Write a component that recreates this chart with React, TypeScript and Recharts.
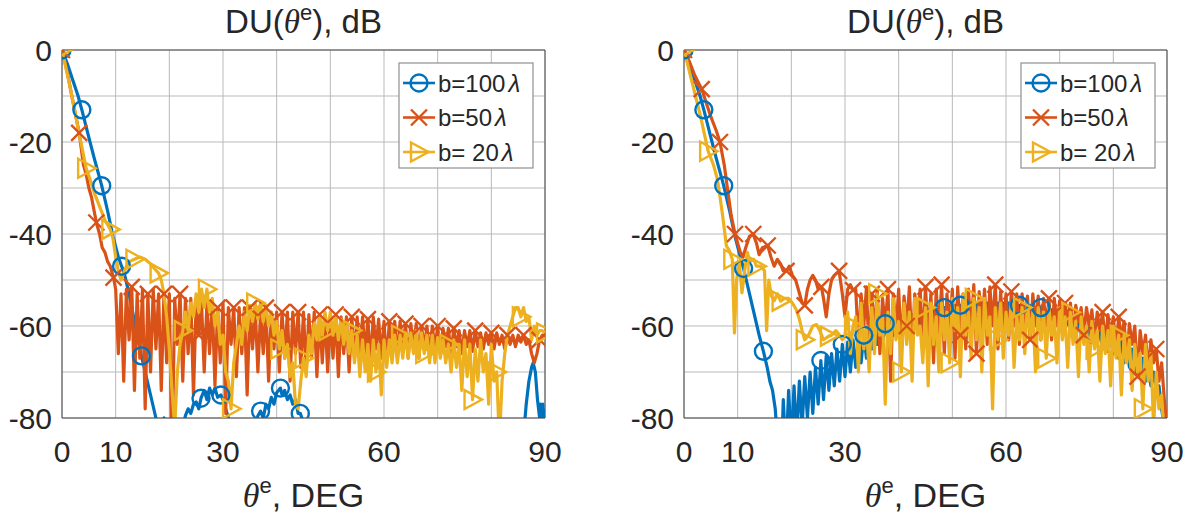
import React from 'react';
import { LineChart, Line, XAxis, YAxis, CartesianGrid, ReferenceLine } from 'recharts';

const BLUE = '#0072BD';
const ORANGE = '#D95319';
const YELLOW = '#EDB120';
const FONT = '"Liberation Sans", Arial, Helvetica, sans-serif';
const TEXT = '#262626';
const AXIS = '#4a4a4a';

const xTicks = [0, 10, 20, 30, 40, 50, 60, 70, 80, 90];
const xLabeled = [0, 10, 30, 60, 90];
const yTicks = [-80, -70, -60, -50, -40, -30, -20, -10, 0];
const yLabeled = [-80, -60, -40, -20, 0];
const legendLabels = ['b=100', 'b=50', 'b= 20'];

// dense parts are sampled every half degree
const STEP = 0.5;

// ---------- left panel ----------
const leftBlue: [number, number][] = [
  [0, 0], [1, -3], [2, -6.5], [3, -10], [3.7, -13], [5, -19], [6, -23.5], [7.4, -29.5], [8.5, -35],
  [9.5, -40.5], [10.5, -45], [11.1, -47], [11.6, -48.5], [12, -50.5], [12.5, -53], [13, -56], [13.5, -59],
  [14, -62], [14.8, -66.5], [15.5, -70], [16, -72.5], [16.5, -75], [17, -77.5], [17.5, -80], [18, -84],
  [18.5, -81], [19, -80], [19.5, -84], [20, -90], [21, -92], [22, -88], [22.5, -82], [23, -79.5],
  [23.5, -78], [24, -79], [24.5, -77], [25, -76.5], [25.5, -78], [25.9, -75.7], [26.5, -74], [27, -76],
  [27.5, -73.5], [28, -75], [28.5, -73.5], [29, -75.5], [29.6, -75], [30, -76], [30.5, -78], [31, -80],
  [31.5, -84], [32, -90], [34, -95], [35.5, -86], [36, -82], [36.5, -79.5], [37, -78.5], [37.5, -80],
  [38, -77], [38.5, -78], [39, -75.5], [39.5, -77], [40, -74.5], [40.7, -73.5], [41, -75], [41.5, -74],
  [42, -76], [42.5, -75], [43, -77], [43.5, -76], [44, -79], [44.4, -79], [45, -81], [46, -88], [48, -95],
  [60, -96], [85.5, -95], [86, -84], [86.5, -77], [87, -72], [87.5, -69], [87.8, -68], [88.2, -70],
  [88.6, -76], [89, -80], [89.2, -77], [89.4, -82], [89.6, -77], [89.8, -85], [90, -78],
];
const leftBlueMarks = [0, 3.7, 7.4, 11.1, 14.8, 25.9, 29.6, 37, 40.7, 44.4];

const leftOrangeHead: [number, number][] = [
  [0, 0], [1, -5], [2, -11], [3.2, -18], [4, -25], [4.5, -27], [5, -30], [5.5, -32], [6.4, -37.5],
  [7, -40], [7.5, -43], [8, -44], [8.5, -46], [9, -47], [9.6, -49.5],
];
// from 10 deg
const leftOrangeTail = [
  -52, -66, -53, -72, -52, -63, -51.5, -74, -53, -67,
  -52, -78, -53, -70, -52, -65, -53, -74, -53, -68,
  -53, -90, -54, -64, -53, -72, -54, -66, -54, -75,
  -55, -62, -55, -70, -55, -66, -55, -73, -56, -68,
  -55, -79, -56, -64, -56, -71, -56, -66, -56, -75,
  -56, -65, -56, -70, -57, -66, -56, -72, -57, -65,
  -57, -70, -57, -67, -57, -72, -57, -66, -57, -69,
  -57, -70, -57.5, -67, -57, -71, -57.5, -68, -57.5, -70,
  -58, -67, -57.5, -71, -58, -66, -58, -70, -58, -67,
  -58, -68, -58, -66, -58.5, -68, -58, -65, -58.5, -67,
  -59, -68, -59, -65, -59, -67, -59, -65, -59.5, -67,
  -59.5, -65, -59.5, -67, -60, -65, -60, -66.5, -60, -65,
  -60, -66, -60.5, -64.5, -60.5, -66, -60.5, -64.5, -61, -66,
  -61, -64.5, -61, -65.5, -61, -64.5, -61.5, -65, -61.5, -64,
  -61.5, -65, -61.5, -64, -62, -65, -62, -64, -62, -64.5,
  -62, -63.5, -62, -64, -63, -66, -68, -66, -63, -62,
  -62,
];
const leftOrangeMarks = [0, 3.2, 6.4, 9.6, 13, 16, 19, 22, 25.5, 29, 32, 35, 38, 41, 44, 48, 51, 54, 57, 61, 64, 67, 70, 73, 77, 80, 83, 86, 89];

const leftYellowHead: [number, number][] = [
  [0, 0], [1.5, -8], [3, -17], [4.5, -25.7], [5.2, -28], [6, -31], [7, -34], [8, -37], [9, -39],
  [9.5, -41], [10, -45], [10.5, -48], [11, -50], [11.5, -48.5], [12, -47], [12.5, -46], [13.5, -45.5],
  [14.5, -45], [15.5, -45.5], [16.5, -46.5], [17.2, -47.5], [18, -48.5], [18.5, -50], [19, -53],
  [19.5, -58], [20, -65], [20.5, -74],
];
// from 21 deg
const leftYellowTail = [
  -82, -70, -64, -61, -57, -61, -55, -58,
  -53, -57, -52, -56, -52, -57, -54, -60, -57, -64,
  -62, -70, -72, -78, -68, -64, -60, -64, -57, -61,
  -55.5, -59, -55, -58.5, -55, -59, -55.5, -60, -57, -62,
  -59, -65, -61, -67, -64, -71, -68, -77, -78, -72,
  -67, -71, -62, -66, -59, -63, -57.5, -62, -57, -61,
  -57, -62, -57.5, -63, -58.5, -64, -59.5, -66, -61, -68,
  -62, -71, -63, -70, -64, -72, -63, -70, -64, -75,
  -63, -69, -63, -68, -62, -68, -62, -67, -61.5, -67,
  -61.5, -66, -61, -67, -61.5, -66, -62, -68, -62, -68,
  -62.5, -67, -63, -68, -64, -70, -63, -69, -64, -74,
  -63, -71, -64, -76, -65, -72, -63, -70, -66, -77,
  -64, -72, -70, -85, -72, -66, -62, -60, -58, -56,
  -56, -58, -56, -59, -58, -63, -60, -62, -61, -61,
  -61.5,
];
const leftYellowMarks = [0, 4.5, 9, 13.5, 18, 22.5, 27, 31.5, 36, 40.5, 45, 49.5, 54, 58.5, 63, 67.5, 72, 76.5, 81, 85.5, 90];

// ---------- right panel ----------
const rightBlueHead: [number, number][] = [
  [0, 0], [1, -3], [2, -6.5], [3, -10], [3.7, -13], [5, -19], [6, -23.5], [7.4, -29.5], [8.5, -35],
  [9.5, -40.5], [10.5, -45], [11.1, -47.5], [12, -52], [13, -57], [14, -62], [14.8, -65.5], [15.5, -69],
  [16, -72], [16.5, -74], [17, -78], [17.5, -86],
];
// from 18 deg
const rightBlueTail = [
  -95, -76, -88, -74,
  -86, -73, -84, -72, -82, -71, -80, -70, -79, -69,
  -77, -67.5, -76, -66.5, -74, -66, -73, -65, -72, -64,
  -71, -63.5, -70, -63, -69, -62.5, -68, -62, -67, -61.5,
  -65, -61, -64, -60, -63.5, -59.5, -63, -59, -62, -58.5,
  -61.5, -58, -61, -58, -61, -57.5, -60.5, -57, -60, -57,
  -60, -56.5, -59.5, -56.5, -59.5, -56, -59, -56, -59, -55.5,
  -58.5, -55.5, -58.5, -55.5, -58.5, -55, -58, -55, -58, -55,
  -58, -55, -58, -55, -58, -55, -58, -55, -58, -55,
  -58, -55, -58, -55.5, -58.5, -55.5, -58.5, -55.5, -58.5, -55.5,
  -59, -56, -59, -56, -59.5, -56.5, -60, -56.5, -60, -57,
  -60.5, -57, -61, -57.5, -61.5, -58, -62, -58.5, -62.5, -59,
  -63, -59.5, -63.5, -60, -64, -60.5, -65, -61, -65.5, -62,
  -66, -62.5, -67, -63, -68, -64, -69, -65, -70, -66,
  -71, -67, -72, -68, -73, -70, -74, -73, -78, -82,
  -90,
];
const rightBlueMarks = [0, 3.7, 7.4, 11.1, 14.8, 25.5, 29.5, 33.5, 37.5, 48.5, 51.5, 62.5, 66.5];

const rightOrangeHead: [number, number][] = [
  [0, 0], [1, -2.5], [2, -5.5], [3.3, -8.5], [4, -11], [5, -14.5], [6, -17.5], [6.7, -20], [7.5, -25],
  [8.2, -31], [8.8, -36], [9.5, -40], [10, -42], [10.5, -44], [11, -45], [11.5, -43], [12.2, -40.5],
  [12.9, -40], [13.5, -42], [14, -44.5], [14.6, -43], [15.6, -42.5], [16.2, -45], [16.8, -47],
  [17.4, -45.5], [18, -46.5], [18.5, -48], [19.1, -48], [19.6, -47], [20.2, -49], [20.8, -50],
  [21.3, -52], [22, -55], [22.5, -55.5], [23, -52], [23.5, -50], [24, -49], [24.5, -50], [25, -52],
  [25.6, -51.5], [26, -54], [26.5, -58], [27, -53], [27.5, -50], [28, -49], [28.9, -48], [29.5, -53],
  [30, -58], [30.5, -52], [31, -51], [31.5, -52.2],
];
// from 32 deg
const rightOrangeTail = [
  -52, -64, -53, -60, -51.5, -67,
  -53, -62, -52, -66, -54, -60, -52, -72, -53, -61,
  -52, -65, -53.5, -60, -51.5, -66, -53, -61, -52, -64,
  -51.5, -63, -53, -68, -52, -62, -51, -66, -53, -61,
  -52, -67, -51.5, -62, -53, -65, -52, -61, -51, -66,
  -52.5, -61, -52, -64, -51.5, -60, -51, -65, -52.5, -61,
  -53, -63, -52.5, -60, -53, -64, -53, -60, -53.5, -63,
  -53, -60, -53.5, -63, -54, -60, -54, -63, -54, -60,
  -54.5, -60, -55, -59, -55, -62, -55.5, -59, -56, -62,
  -56, -60, -56.5, -63, -57, -61, -57, -64, -57.5, -62,
  -58, -65, -58, -63, -59, -67, -59.5, -64, -60, -71,
  -61, -66, -62, -70, -63, -68, -65, -72, -68, -76,
  -82,
];
const rightOrangeMarks = [0, 3.3, 6.7, 9.5, 12.9, 15.6, 19.1, 22.5, 25.6, 28.9, 31.5, 35, 38, 41.5, 45, 48, 51.5, 54.5, 58, 61, 64.5, 68, 71, 74.5, 78, 81, 84.5, 88];

const rightYellowHead: [number, number][] = [
  [0, 0], [1.5, -7], [3, -14], [4.5, -22], [5.5, -25], [6.2, -28], [6.7, -31.8], [7.2, -36], [7.9, -42.6],
  [8.4, -43.5], [9, -45.5], [9.4, -61.5], [9.8, -50], [10.3, -46], [10.8, -52.8], [11.3, -48], [11.8, -44],
  [12.3, -46], [13, -45.5], [13.5, -47], [14.3, -47], [15, -48], [15.4, -61], [15.8, -50], [16.3, -53.5],
  [16.8, -54.5], [17.4, -53], [18, -54.6], [18.7, -54], [19.5, -54], [20.2, -55], [20.9, -56.4],
  [21.5, -58.5], [22, -61], [22.5, -63], [23.2, -62], [24, -60], [24.7, -59.7], [25.3, -61], [26, -63],
  [27, -62.2], [27.5, -62], [28.3, -61], [29, -62], [29.5, -63],
];
// from 30 deg
const rightYellowTail = [
  -62, -57, -66, -60, -58, -70, -55, -65, -60, -70,
  -56, -66, -53, -62, -58, -77, -57, -66, -54, -63,
  -59, -70, -55, -64, -57, -72, -54, -62, -60, -68,
  -56, -73, -55, -64, -58, -70, -55, -63, -57, -68,
  -54, -61, -56, -71, -53, -62, -57, -67, -54, -63,
  -56, -70, -54, -62, -58, -78, -56, -63, -55, -67,
  -57, -62, -55, -69, -58, -63, -56, -66, -55, -62,
  -57, -70, -56, -63, -57, -67, -56, -62, -58, -68,
  -56, -63, -58, -69, -57, -64, -59, -71, -58, -64,
  -60, -70, -59, -65, -61, -72, -60, -66, -61, -73,
  -60, -67, -62, -75, -62, -68, -63, -74, -64, -70,
  -66, -78, -64, -72, -66, -82, -70, -78, -75, -85,
  -90,
];
const rightYellowMarks = [0, 4.5, 9, 13.5, 18, 22.5, 27, 31.5, 36, 40.5, 45, 49.5, 54, 58.5, 63, 67.5, 72, 76.5, 81, 85.5, 90];

type Pt = { x: number; y: number; m: boolean };

const build = (head: [number, number][], tailStart: number, tail: number[], marks: number[]): Pt[] => {
  const pts = head.map(([x, y]) => ({ x, y }));
  tail.forEach((y, i) => pts.push({ x: tailStart + i * STEP, y }));
  return pts.map((p) => ({ ...p, m: marks.some((mx) => Math.abs(mx - p.x) < 1e-6) }));
};

const leftSeries = [
  { name: 'blue', color: BLUE, kind: 'o', data: build(leftBlue, 90, [], leftBlueMarks) },
  { name: 'orange', color: ORANGE, kind: 'x', data: build(leftOrangeHead, 10, leftOrangeTail, leftOrangeMarks) },
  { name: 'yellow', color: YELLOW, kind: '>', data: build(leftYellowHead, 21, leftYellowTail, leftYellowMarks) },
];
const rightSeries = [
  { name: 'blue', color: BLUE, kind: 'o', data: build(rightBlueHead, 18, rightBlueTail, rightBlueMarks) },
  { name: 'orange', color: ORANGE, kind: 'x', data: build(rightOrangeHead, 32, rightOrangeTail, rightOrangeMarks) },
  { name: 'yellow', color: YELLOW, kind: '>', data: build(rightYellowHead, 30, rightYellowTail, rightYellowMarks) },
];

const MarkerShape = ({ kind, cx, cy, color }: { kind: string; cx: number; cy: number; color: string }) => {
  if (kind === 'o') {
    return <circle cx={cx} cy={cy} r={8.5} fill="none" stroke={color} strokeWidth={2.4} />;
  }
  if (kind === 'x') {
    const d = 8;
    return (
      <path
        d={`M${cx - d},${cy - d}L${cx + d},${cy + d}M${cx - d},${cy + d}L${cx + d},${cy - d}`}
        stroke={color}
        strokeWidth={2.4}
        fill="none"
      />
    );
  }
  return (
    <path
      d={`M${cx - 8},${cy - 9.5}L${cx + 9.5},${cy}L${cx - 8},${cy + 9.5}Z`}
      stroke={color}
      strokeWidth={2.4}
      fill="none"
    />
  );
};

const drawMarker = (kind: string, color: string) => (p: any) => {
  const { cx, cy, payload, index } = p;
  if (!payload || !payload.m || cx == null || cy == null) return <g key={`n${index}`} />;
  return (
    <g key={`m${index}`}>
      <MarkerShape kind={kind} cx={cx} cy={cy} color={color} />
    </g>
  );
};

const tickStyle = { fontSize: 30, fill: TEXT, fontFamily: FONT };

const Panel = ({ left, yAxisWidth, rightMargin, series }: any) => (
  <div style={{ position: 'absolute', left, top: 0 }}>
    <LineChart width={594} height={517} margin={{ top: 50, right: rightMargin, bottom: 39, left: 0 }}>
      <CartesianGrid stroke="#b9b9b9" />
      <XAxis
        type="number"
        dataKey="x"
        domain={[0, 90]}
        ticks={xTicks}
        interval={0}
        allowDataOverflow
        height={60}
        tickSize={6}
        tickMargin={17}
        tickLine={false}
        axisLine={{ stroke: AXIS }}
        tick={tickStyle}
        tickFormatter={(v: number) => (xLabeled.includes(v) ? String(v) : '')}
      />
      <YAxis
        type="number"
        domain={[-80, 0]}
        ticks={yTicks}
        interval={0}
        allowDataOverflow
        width={yAxisWidth}
        tickSize={6}
        tickMargin={4}
        tickLine={false}
        axisLine={{ stroke: AXIS }}
        tick={tickStyle}
        tickFormatter={(v: number) => (yLabeled.includes(v) ? String(v) : '')}
      />
      <ReferenceLine y={0} stroke={AXIS} />
      <ReferenceLine x={90} stroke={AXIS} />
      {series.map((s: any) => (
        <Line
          key={s.name}
          data={s.data}
          dataKey="y"
          type="linear"
          stroke={s.color}
          strokeWidth={3.2}
          strokeLinejoin="round"
          dot={drawMarker(s.kind, s.color)}
          activeDot={false}
          isAnimationActive={false}
        />
      ))}
    </LineChart>
  </div>
);

const legendColors = [BLUE, ORANGE, YELLOW];
const legendKinds = ['o', 'x', '>'];

const LegendBox = ({ x, y }: { x: number; y: number }) => (
  <g>
    <rect x={x} y={y} width={134} height={105} fill="#ffffff" stroke="#8f8f8f" strokeWidth={1.2} />
    {legendLabels.map((label, i) => {
      const cy = y + 20 + i * 34.5;
      return (
        <g key={label}>
          <line x1={x + 4} x2={x + 36} y1={cy} y2={cy} stroke={legendColors[i]} strokeWidth={2.6} />
          <MarkerShape kind={legendKinds[i]} cx={x + 20} cy={cy} color={legendColors[i]} />
          <text x={x + 39} y={cy + 8.5} fontSize={24} fill={TEXT} fontFamily={FONT}>
            {label}
            <tspan dx={3} fontStyle="italic">λ</tspan>
          </text>
        </g>
      );
    })}
  </g>
);

const Title = ({ cx }: { cx: number }) => (
  <text x={cx} y={33} textAnchor="middle" fontSize={33} fill={TEXT} fontFamily={FONT}>
    DU(
    <tspan fontStyle="italic" fontFamily='"Liberation Serif", "DejaVu Serif", serif'>θ</tspan>
    <tspan dy={-13} fontSize={22}>e</tspan>
    <tspan dy={13}>), dB</tspan>
  </text>
);

const XLabel = ({ cx }: { cx: number }) => (
  <text x={cx} y={507} textAnchor="middle" fontSize={34} fill={TEXT} fontFamily={FONT}>
    <tspan fontStyle="italic" fontFamily='"Liberation Serif", "DejaVu Serif", serif'>θ</tspan>
    <tspan dy={-14} fontSize={22}>e</tspan>
    <tspan dy={14}>, DEG</tspan>
  </text>
);

export default function App() {
  return (
    <div style={{ position: 'absolute', left: 0, top: 0, width: 1188, height: 517, background: '#fff' }}>
      <Panel left={0} yAxisWidth={62} rightMargin={49} series={leftSeries} />
      <Panel left={594} yAxisWidth={90} rightMargin={21} series={rightSeries} />
      <svg
        width={1188}
        height={517}
        style={{ position: 'absolute', left: 0, top: 0, pointerEvents: 'none' }}
      >
        <Title cx={303.5} />
        <Title cx={925.5} />
        <XLabel cx={303.5} />
        <XLabel cx={925.5} />
        <LegendBox x={399} y={63} />
        <LegendBox x={1021} y={63} />
      </svg>
    </div>
  );
}
